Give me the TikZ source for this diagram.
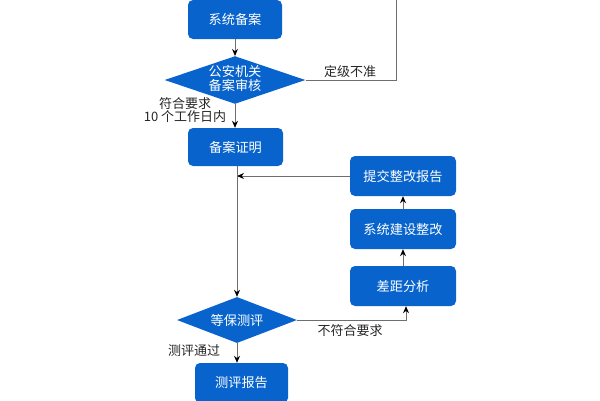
\documentclass[tikz,border=0pt]{standalone}
\usepackage{fontspec}
\setmainfont{Noto Sans CJK SC}
\usetikzlibrary{shapes.geometric,arrows.meta}
\definecolor{boxblue}{RGB}{8,100,204}
\definecolor{linegray}{RGB}{110,110,110}
\tikzset{
  box/.style={draw=none,fill=boxblue,rounded corners=5pt,text=white,font=\fontsize{13.2}{15}\selectfont,minimum height=39pt,inner sep=0pt},
  dia/.style={diamond,fill=boxblue,text=white,font=\fontsize{13.2}{15}\selectfont,inner sep=0pt,aspect=2.95},
  conn/.style={draw=linegray,line width=0.9pt},
  arr/.style={conn,-{Stealth[length=7pt,width=6pt,black]}},
  lbl/.style={font=\fontsize{13}{15}\selectfont,text=black!85,inner sep=0pt}
}
\begin{document}
\begin{tikzpicture}[x=1pt,y=-1pt]
\useasboundingbox (0,0) rectangle (600,400);
\clip (0,0) rectangle (600,400);
\node[box,minimum width=94pt] (bei) at (235,19.5) {系统备案};
\node[dia,minimum width=136pt,minimum height=46pt] (gongan) at (235,80) {\begin{tabular}{@{}c@{}}公安机关\\[-1.5pt]备案审核\end{tabular}};
\node[box,minimum width=95pt,minimum height=38pt] (zheng) at (235.5,147) {备案证明};
\node[box,minimum width=106pt,minimum height=40pt] (tijiao) at (403,176) {提交整改报告};
\node[box,minimum width=106pt,minimum height=40pt] (jianshe) at (403,229) {系统建设整改};
\node[box,minimum width=106pt,minimum height=40pt] (chaju) at (403,286) {差距分析};
\node[dia,minimum width=120pt,minimum height=46pt] (dengbao) at (237,320) {等保测评};
\node[box,minimum width=93pt,minimum height=40pt] (baogao) at (241.5,383) {测评报告};
\coordinate (topR) at (396,-2);
\coordinate (join) at (237,176);
\coordinate (turn) at (406,320);

\draw[arr] (bei.south -| gongan.north) -- (gongan.north);
\draw[conn] (gongan.east) -| (topR);
\node[lbl] (l1) at (350,72) {定级不准};
\draw[arr] (gongan.south) -- (gongan.south |- zheng.north);
\node[lbl,align=center] (l2) at (185,110) {符合要求\\[-2pt]10 个工作日内};
\draw[arr] (tijiao.west) -- (join);
\draw[arr] (zheng.south -| join) -- (dengbao.north);
\draw[arr] (jianshe.north) -- (tijiao.south);
\draw[arr] (chaju.north) -- (jianshe.south);
\draw[arr] (dengbao.east) -- (turn) -- (chaju.south -| turn);
\node[lbl] (l3) at (350,331) {不符合要求};
\draw[arr] (dengbao.south) -- (dengbao.south |- baogao.north);
\node[lbl] (l4) at (194,351) {测评通过};
\end{tikzpicture}
\end{document}
